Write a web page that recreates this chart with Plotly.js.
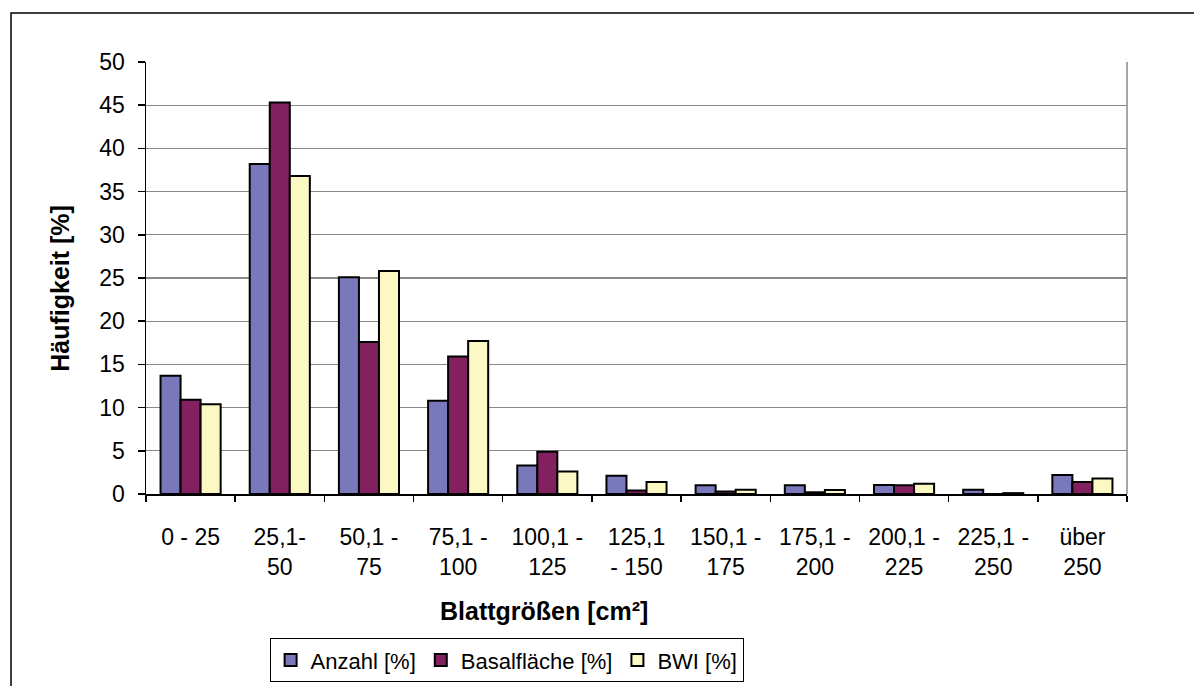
<!DOCTYPE html>
<html>
<head>
<meta charset="utf-8">
<script src="https://cdn.plot.ly/plotly-3.0.1.min.js"></script>
<style>
html,body{margin:0;padding:0;background:#fff;}
#chart{width:1194px;height:686px;}
</style>
</head>
<body>
<div id="chart"></div>
<script>
const categories = ["0 - 25","25,1-<br>50","50,1 -<br>75","75,1 -<br>100","100,1 -<br>125","125,1<br>- 150","150,1 -<br>175","175,1 -<br>200","200,1 -<br>225","225,1 -<br>250","über<br>250"];
const anzahl =      [13.7, 38.2, 25.1, 10.8, 3.3, 2.1, 1.0, 1.0, 1.05, 0.5, 2.2];
const basalflaeche = [10.9, 45.3, 17.6, 15.9, 4.9, 0.4, 0.3, 0.2, 1.0, 0.0, 1.4];
const bwi =          [10.4, 36.8, 25.8, 17.7, 2.6, 1.4, 0.5, 0.45, 1.2, 0.1, 1.8];
const seriesNames = ["Anzahl [%]", "Basalfläche [%]", "BWI [%]"];
const colors = ["#7878BA", "#832060", "#FBF8C4"];
const xTitle = "Blattgrößen [cm²]";
const yTitle = "Häufigkeit [%]";

const FONT = "Liberation Sans, Arial, sans-serif";
const traces = [anzahl, basalflaeche, bwi].map((vals, i) => ({
  type: "bar",
  name: seriesNames[i],
  x: categories,
  y: vals,
  marker: {color: colors[i], line: {color: "#000", width: 2}},
  hoverinfo: "skip"
}));

const layout = {
  width: 1194, height: 686,
  margin: {l: 146, r: 67, t: 62, b: 191.5, autoexpand: false},
  paper_bgcolor: "#fff", plot_bgcolor: "#fff",
  font: {family: FONT, color: "#000", size: 23},
  barmode: "group",
  bargap: 0.326, bargroupgap: 0,
  showlegend: true,
  legend: {
    orientation: "h",
    x: 0.126, xanchor: "left",
    y: -0.4358, yanchor: "bottom",
    bordercolor: "#000", borderwidth: 1,
    font: {size: 22, family: FONT},
    itemwidth: 30,
    tracegroupgap: 0
  },
  xaxis: {
    type: "category",
    showline: true, linecolor: "#000", linewidth: 1.5,
    ticks: "outside", ticklen: 6, tickcolor: "#000", tickwidth: 1.5,
    tickson: "boundaries",
    ticklabelstandoff: 22,
    tickfont: {size: 23, family: FONT},
    showgrid: false,
    automargin: false
  },
  yaxis: {
    range: [0, 50],
    dtick: 5,
    showline: true, linecolor: "#000", linewidth: 1.5,
    ticks: "outside", ticklen: 7, tickcolor: "#000", tickwidth: 1.5,
    ticklabelstandoff: 8,
    tickfont: {size: 23, family: FONT},
    showgrid: true, gridcolor: "#888", gridwidth: 1.3,
    zeroline: false,
    title: {text: "<b>" + yTitle + "</b>&nbsp;&nbsp;&nbsp;", font: {size: 25, family: FONT}, standoff: 22},
    automargin: false
  },
  annotations: [
    {text: "<b>" + xTitle + "</b>", xref: "paper", yref: "paper", x: 0.4057, y: -0.2717,
     xanchor: "center", yanchor: "middle", showarrow: false, font: {size: 25, family: FONT, color: "#000"}}
  ],
  shapes: [
    {type: "line", xref: "paper", yref: "paper", x0: 1, x1: 1, y0: 0, y1: 1, line: {color: "#888", width: 1.5}},
    {type: "rect", xref: "paper", yref: "paper", x0: -0.1376, x1: 1.075, y0: -0.6, y1: 1.1133, line: {color: "#000", width: 1.5}, layer: "below"}
  ]
};

Plotly.newPlot("chart", traces, layout, {displayModeBar: false, staticPlot: true});
</script>
</body>
</html>
